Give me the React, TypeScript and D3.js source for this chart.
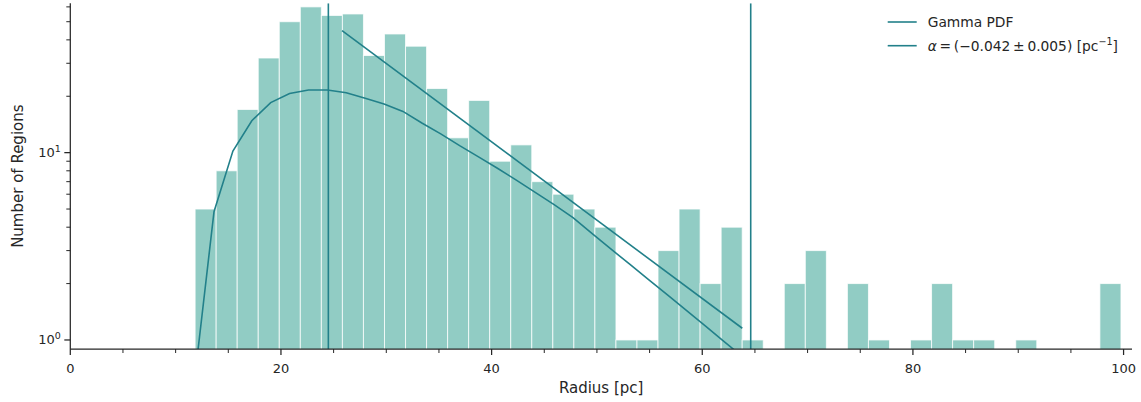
import React from "react";
import * as d3 from "d3";

// Histogram: np.histogram-like bins between min and max radius
const BIN_MIN = 11.85;
const BIN_MAX = 99.75;
const BIN_COUNTS = [
  5, 8, 17, 32, 50, 60, 54, 55, 33, 43, 37, 22, 12, 19, 9, 11, 7, 6, 5, 4, 1, 1,
  3, 5, 2, 4, 1, 0, 2, 3, 0, 2, 1, 0, 1, 2, 1, 1, 0, 1, 0, 0, 0, 2,
];

// Gamma PDF curve, sampled on a 50-point grid over [BIN_MIN, BIN_MAX] (visible part)
const GAMMA_N = 50;
const GAMMA_VALUES = [
  0.65, 4.84, 10.2, 14.8, 18.5, 20.7, 21.6, 21.6, 20.9, 19.5, 18.2, 16.6, 14.4,
  12.6, 10.9, 9.5, 8.26, 7.13, 6.14, 5.28, 4.5, 3.71, 3.06, 2.54, 2.1, 1.74,
  1.44, 1.19, 0.98, 0.81, 0.67,
];

// Exponential fit line endpoints [radius, count]
const FIT_X = [25.8, 63.8];
const FIT_Y = [44.8, 1.155];

// Vertical reference lines
const VLINES = [24.5, 64.6];

const X_TICKS = [0, 20, 40, 60, 80, 100];
const X_MINOR = [5, 10, 15, 25, 30, 35, 45, 50, 55, 65, 70, 75, 85, 90, 95];
const Y_TICKS = [1, 10];
const Y_TICK_EXP = ["0", "1"];
const Y_MINOR = [2, 3, 4, 5, 6, 7, 8, 9, 20, 30, 40, 50, 60];

const BAR_COLOR = "#91ccc4";
const LINE_COLOR = "#22808a";
const INK = "#262626";
const FONT = "'DejaVu Sans', sans-serif";

export default function App() {
  const W = 1141;
  const H = 402;
  const left = 70.3;
  const right = 1132;
  const top = 3.3;
  const bottom = 349;

  const x = d3.scaleLinear().domain([0, 100.8]).range([left, right]);
  const y = d3.scaleLog().domain([0.895, 62.7]).range([bottom, top]);

  const nb = BIN_COUNTS.length;
  const bw = (BIN_MAX - BIN_MIN) / nb;
  const bins = BIN_COUNTS.map((c, i) => ({
    x0: BIN_MIN + i * bw,
    x1: BIN_MIN + (i + 1) * bw,
    c,
  }));

  const gstep = (BIN_MAX - BIN_MIN) / (GAMMA_N - 1);
  const gammaPts: [number, number][] = GAMMA_VALUES.map((v, i) => [
    BIN_MIN + i * gstep,
    v,
  ]);
  const line = d3
    .line<[number, number]>()
    .x((d) => x(d[0]))
    .y((d) => y(d[1]));
  const fitPts: [number, number][] = FIT_X.map((v, i) => [v, FIT_Y[i]]);

  return (
    <svg
      width={W}
      height={H}
      style={{ position: "fixed", left: 0, top: 0, background: "#fff" }}
      fontFamily={FONT}
    >
      <defs>
        <clipPath id="plot">
          <rect x={left} y={top} width={right - left} height={bottom - top} />
        </clipPath>
      </defs>
      <g clipPath="url(#plot)">
        {bins
          .filter((b) => b.c > 0)
          .map((b, i) => (
            <rect
              key={i}
              x={x(b.x0)}
              y={y(b.c)}
              width={x(b.x1) - x(b.x0)}
              height={bottom - y(b.c) + 2}
              fill={BAR_COLOR}
              stroke="#ffffff"
              strokeOpacity={0.75}
              strokeWidth={1}
            />
          ))}
        <path
          d={line(gammaPts) || ""}
          fill="none"
          stroke={LINE_COLOR}
          strokeWidth={1.6}
        />
        <path
          d={line(fitPts) || ""}
          fill="none"
          stroke={LINE_COLOR}
          strokeWidth={1.6}
        />
        {VLINES.map((v, i) => (
          <line
            key={i}
            x1={x(v)}
            x2={x(v)}
            y1={top}
            y2={bottom}
            stroke={LINE_COLOR}
            strokeWidth={1.6}
          />
        ))}
      </g>

      {/* spines */}
      <line x1={left} x2={left} y1={top} y2={bottom} stroke={INK} strokeWidth={1.25} />
      <line x1={left} x2={right} y1={bottom} y2={bottom} stroke={INK} strokeWidth={1.25} />

      {/* x ticks */}
      {X_TICKS.map((t) => (
        <g key={t}>
          <line x1={x(t)} x2={x(t)} y1={bottom} y2={bottom + 6} stroke={INK} strokeWidth={1.25} />
          <text x={x(t)} y={372.5} textAnchor="middle" fontSize={13} fill={INK}>
            {t}
          </text>
        </g>
      ))}
      {X_MINOR.map((t) => (
        <line key={t} x1={x(t)} x2={x(t)} y1={bottom} y2={bottom + 4} stroke={INK} strokeWidth={1} />
      ))}

      {/* y ticks */}
      {Y_TICKS.map((t, i) => (
        <g key={t}>
          <line x1={left - 6} x2={left} y1={y(t)} y2={y(t)} stroke={INK} strokeWidth={1.25} />
          <text x={left - 9.5} y={y(t) + 4.5} textAnchor="end" fontSize={13} fill={INK}>
            <tspan>10</tspan>
            <tspan dy={-5.5} fontSize={9.5}>
              {Y_TICK_EXP[i]}
            </tspan>
          </text>
        </g>
      ))}
      {Y_MINOR.map((t) => (
        <line key={t} x1={left - 4} x2={left} y1={y(t)} y2={y(t)} stroke={INK} strokeWidth={1} />
      ))}

      {/* axis labels */}
      <text x={(left + right) / 2} y={393} textAnchor="middle" fontSize={15} fill={INK}>
        Radius [pc]
      </text>
      <text
        transform={`translate(22.5, ${(top + bottom) / 2}) rotate(-90)`}
        textAnchor="middle"
        fontSize={15}
        fill={INK}
      >
        Number of Regions
      </text>

      {/* legend */}
      <line x1={887.7} x2={916.7} y1={22} y2={22} stroke={LINE_COLOR} strokeWidth={1.6} />
      <text x={927.7} y={27.3} fontSize={13.8} fill={INK}>
        Gamma PDF
      </text>
      <line x1={887.7} x2={916.7} y1={45.7} y2={45.7} stroke={LINE_COLOR} strokeWidth={1.6} />
      <text x={927.7} y={50.8} fontSize={13.8} fill={INK}>
        <tspan fontStyle="italic">α</tspan>
        <tspan>{"\u2009=\u2009(\u22120.042\u2009±\u20090.005) [pc"}</tspan>
        <tspan dy={-5.5} fontSize={9.6}>
          {"\u22121"}
        </tspan>
        <tspan dy={5.5}>]</tspan>
      </text>
    </svg>
  );
}
